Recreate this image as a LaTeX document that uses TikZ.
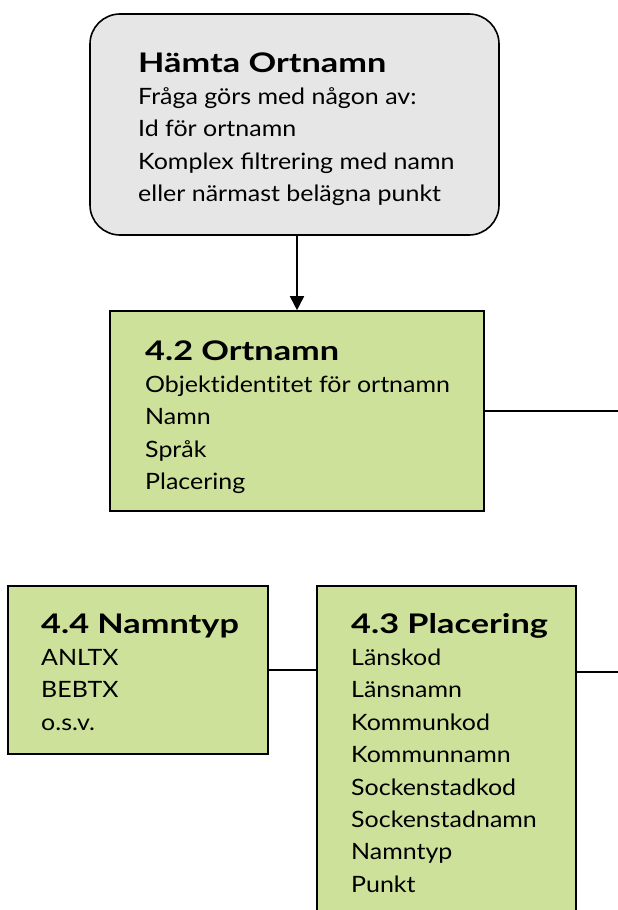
\documentclass[tikz,border=0pt]{standalone}
\usepackage{fontspec}
\setmainfont{Lato}
\newfontfamily\bodyfam[FakeStretch=1.11]{Lato}
\newfontfamily\headfam[FakeStretch=1.27]{Lato}
\usetikzlibrary{arrows.meta}
\definecolor{boxgreen}{RGB}{205,225,155}
\definecolor{boxgrey}{RGB}{230,230,230}
\newcommand\bodyfont{\bodyfam\fontsize{22.5}{32.4}\selectfont}
\newcommand\headfont{\headfam\fontsize{27}{32.4}\selectfont\bfseries}
\newcommand\boxtext[2]{\bodyfont\begin{tabular}[t]{@{}l@{}}{\headfont #1}\\ #2\end{tabular}}
\tikzset{
  entity/.style={draw=black, line width=1.6pt, fill=boxgreen, inner sep=0pt},
  query/.style={draw=black, line width=1.6pt, fill=boxgrey, rounded corners=30pt, inner sep=0pt},
  label/.style={anchor=base west, inner sep=0pt, text=black},
  link/.style={line width=1.6pt, draw=black},
  arrowlink/.style={link, -{Triangle[length=14pt,width=14pt]}}
}
\begin{document}
\begin{tikzpicture}[x=1pt,y=-1pt]
\useasboundingbox[fill=white] (0,0) rectangle (618,910);
\node[query, minimum width=409pt, minimum height=221pt] (hamta) at (294.5,124.5) {};
\node[entity, minimum width=374pt, minimum height=200pt] (ortnamn) at (297,411) {};
\node[entity, minimum width=260pt, minimum height=168pt] (namntyp) at (138,670) {};
\node[entity, minimum width=259pt, minimum height=354pt] (placering) at (446.5,763) {};
\coordinate (edge1) at (618,411);
\coordinate (edge2) at (618,672);
\node[label] (thamta) at (138,72) {\boxtext{Hämta Ortnamn}{Fråga görs med någon av:\\ Id för ortnamn\\ Komplex filtrering med namn\\ eller närmast belägna punkt}};
\node[label] (tortnamn) at (145,360) {\boxtext{4.2 Ortnamn}{Objekt\kern0pt ident\kern0pt itet för ortnamn\\ Namn\\ Språk\\ Placering}};
\node[label] (tnamntyp) at (41,633) {\boxtext{4.4 Namntyp}{ANLTX\\ BEBTX\\ o.s.v.}};
\node[label] (tplacering) at (351,633) {\boxtext{4.3 Placering}{Länskod\\ Länsnamn\\ Kommunkod\\ Kommunnamn\\ Sockenstadkod\\ Sockenstadnamn\\ Namntyp\\ Punkt}};
\draw[arrowlink] (hamta.south -| ortnamn.north) -- (ortnamn.north);
\draw[link] (ortnamn.east) -- (edge1);
\draw[link] (namntyp.east) -- (namntyp.east -| placering.west);
\draw[link] (placering.east |- edge2) -- (edge2);
\end{tikzpicture}
\end{document}
